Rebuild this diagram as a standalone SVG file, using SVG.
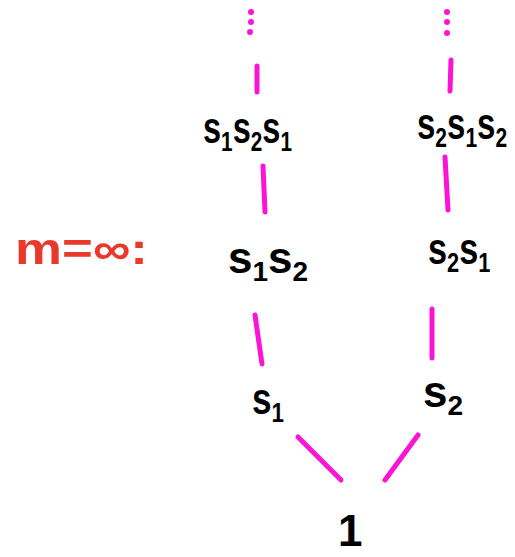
<svg xmlns="http://www.w3.org/2000/svg" width="515" height="557" viewBox="0 0 515 557">
  <style>
    .edge { stroke: #fb14d6; stroke-width: 5; stroke-linecap: round; fill: none; }
    .dot { fill: #fb14d6; }
    .lbl { font-family: "Liberation Sans", sans-serif; font-weight: bold; font-size: 44px; fill: #000; }
    .sub { font-size: 28px; }
    .note { font-family: "Liberation Sans", sans-serif; font-weight: bold; font-size: 44px; fill: #e8392a; }
  </style>
  <rect width="515" height="557" fill="#fff"/>

  <g id="connectors">
    <!-- continuation dots -->
    <circle class="dot" cx="251" cy="12" r="3"/>
    <circle class="dot" cx="251" cy="22" r="3"/>
    <circle class="dot" cx="250" cy="32" r="3"/>
    <circle class="dot" cx="447" cy="12" r="3"/>
    <circle class="dot" cx="447" cy="22" r="3"/>
    <circle class="dot" cx="447" cy="33" r="3"/>
    <!-- left chain -->
    <line class="edge" x1="257" y1="66" x2="257" y2="92"/>
    <line class="edge" x1="263" y1="166" x2="265" y2="212"/>
    <line class="edge" x1="255" y1="315" x2="262" y2="364"/>
    <line class="edge" x1="298" y1="437" x2="341" y2="480"/>
    <!-- right chain -->
    <line class="edge" x1="451" y1="60" x2="450" y2="91"/>
    <line class="edge" x1="445" y1="157" x2="448" y2="210"/>
    <line class="edge" x1="432" y1="309" x2="432" y2="358"/>
    <line class="edge" x1="418" y1="435" x2="385" y2="480"/>
  </g>

  <g id="note-m" transform="translate(15,264) scale(1.2,1)">
    <text class="note" x="0" y="0">m=∞:</text>
  </g>

  <g id="n-s1s2s1" transform="translate(203,143) scale(0.74,1)">
    <text class="lbl" x="0" y="0">s<tspan class="sub" dy="8">1</tspan><tspan dy="-8">s</tspan><tspan class="sub" dy="8">2</tspan><tspan dy="-8">s</tspan><tspan class="sub" dy="8">1</tspan></text>
  </g>
  <g id="n-s2s1s2" transform="translate(417,139) scale(0.75,1)">
    <text class="lbl" x="0" y="0">s<tspan class="sub" dy="8">2</tspan><tspan dy="-8">s</tspan><tspan class="sub" dy="8">1</tspan><tspan dy="-8">s</tspan><tspan class="sub" dy="8">2</tspan></text>
  </g>
  <g id="n-s1s2" transform="translate(228,273)">
    <text class="lbl" x="0" y="0">s<tspan class="sub" dy="8">1</tspan><tspan dy="-8">s</tspan><tspan class="sub" dy="8">2</tspan></text>
  </g>
  <g id="n-s2s1" transform="translate(428,264) scale(0.78,1)">
    <text class="lbl" x="0" y="0">s<tspan class="sub" dy="8">2</tspan><tspan dy="-8">s</tspan><tspan class="sub" dy="8">1</tspan></text>
  </g>
  <g id="n-s1" transform="translate(252,414) scale(0.8,1)">
    <text class="lbl" x="0" y="0">s<tspan class="sub" dy="8">1</tspan></text>
  </g>
  <g id="n-s2" transform="translate(423,407)">
    <text class="lbl" x="0" y="0">s<tspan class="sub" dy="8">2</tspan></text>
  </g>
  <g id="n-1">
    <text class="lbl" x="338" y="546" font-size="46">1</text>
  </g>
</svg>
